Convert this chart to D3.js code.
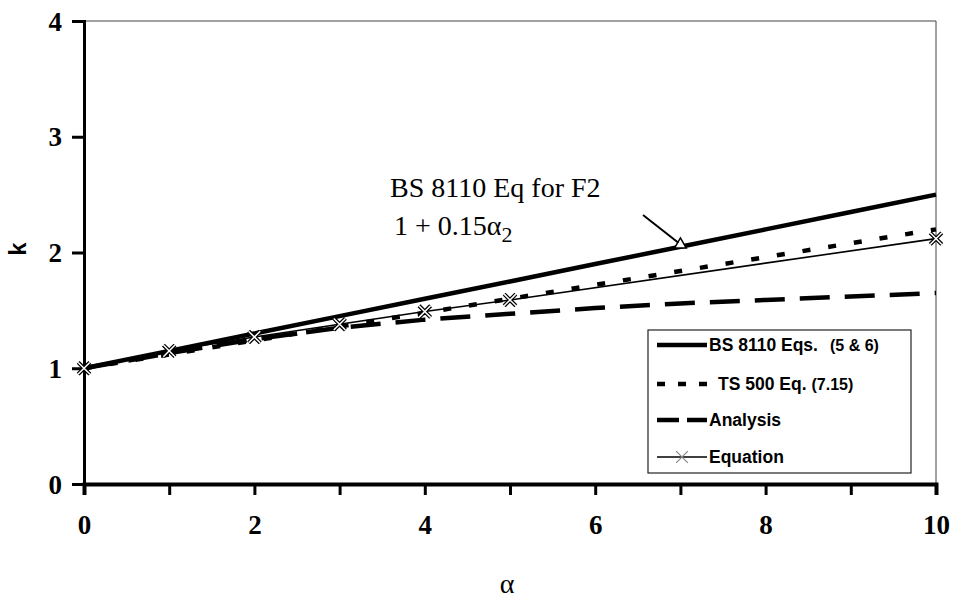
<!DOCTYPE html>
<html>
<head>
<meta charset="utf-8">
<script src="https://cdn.jsdelivr.net/npm/d3@7"></script>
<style>
  body { margin: 0; background: #fff; }
  .tick text { font-family: "Liberation Serif", "Times New Roman", serif; font-weight: bold; font-size: 27px; fill: #000; }
</style>
</head>
<body>
<svg id="chart" width="958" height="603"></svg>
<script>
// values
const alpha = [0, 1, 2, 3, 4, 5, 6, 7, 8, 9, 10]
const bs8110 = [1.0, 1.15, 1.3, 1.45, 1.6, 1.75, 1.9, 2.05, 2.2, 2.35, 2.5]
const ts500 = [1.0, 1.12, 1.24, 1.36, 1.48, 1.6, 1.72, 1.84, 1.96, 2.08, 2.2]
const analysis = [1.0, 1.13, 1.25, 1.35, 1.42, 1.47, 1.52, 1.56, 1.59, 1.62, 1.65]
const alphaEq = [0, 1, 2, 3, 4, 5, 10]
const equation = [1.0, 1.15, 1.27, 1.38, 1.49, 1.59, 2.12]
const xTicks = [0, 1, 2, 3, 4, 5, 6, 7, 8, 9, 10]
const xLabels = [0, 2, 4, 6, 8, 10]
const yTicks = [0, 1, 2, 3, 4]
const legendNames = ["BS 8110 Eqs.", "TS 500 Eq.", "Analysis", "Equation"]
const legendNotes = ["(5 & 6)", "(7.15)", "", ""]
const markedAlpha = 7   // point the arrow points at

const svg = d3.select("#chart")
const mLeft = 84, mRight = 936, mTop = 21, mBottom = 484

let x = d3.scaleLinear().domain([0, 10]).range([mLeft, mRight])
let y = d3.scaleLinear().domain([0, 4]).range([mBottom, mTop])

// thin frame on top and right
svg.append("path")
   .attr("d", `M${mLeft},${mTop}H${mRight}V${mBottom}`)
   .attr("fill", "none")
   .attr("stroke", "#444")
   .attr("stroke-width", 1)

// axes
const xAxis = d3.axisBottom(x).tickValues(xTicks).tickSize(11).tickPadding(20)
                .tickFormat(d => xLabels.includes(d) ? d : "")
const yAxis = d3.axisLeft(y).tickValues(yTicks).tickSize(12).tickPadding(10)
                .tickFormat(d3.format("d"))

let gx = svg.append("g").attr("transform", `translate(0,${mBottom})`).call(xAxis)
gx.select(".domain").attr("stroke-width", 4)
gx.selectAll(".tick line").attr("stroke-width", 3)

let gy = svg.append("g").attr("transform", `translate(${mLeft},0)`).call(yAxis)
gy.select(".domain").attr("stroke-width", 3)
gy.selectAll(".tick line").attr("stroke-width", 3)
gy.selectAll(".tick text").attr("dy", "0.34em")

// axis titles
svg.append("text")
   .attr("x", 507).attr("y", 593)
   .attr("text-anchor", "middle")
   .attr("font-family", "Liberation Serif, serif")
   .attr("font-size", 28)
   .text("α")

svg.append("text")
   .attr("transform", "translate(26,249) rotate(-90)")
   .attr("text-anchor", "middle")
   .attr("font-family", "Liberation Sans, Arial, sans-serif")
   .attr("font-weight", "bold")
   .attr("font-size", 24)
   .text("k")

// series
let line = d3.line().x(d => x(d[0])).y(d => y(d[1]))

const bsStyle = { pts: d3.zip(alpha, bs8110), width: 4.5, dash: null, legDash: null }
const tsStyle = { pts: d3.zip(alpha, ts500), width: 4.5, dash: "8,18", legDash: "8,13" }
const anStyle = { pts: d3.zip(alpha, analysis), width: 4.5, dash: "30,15", legDash: "22,8" }
const eqStyle = { pts: d3.zip(alphaEq, equation), width: 1.6, dash: null, legDash: null }

svg.selectAll(".series")
   .data([anStyle, tsStyle, bsStyle, eqStyle])
   .enter()
   .append("path")
   .attr("class", "series")
   .attr("d", d => line(d.pts))
   .attr("fill", "none")
   .attr("stroke", "#000")
   .attr("stroke-width", d => d.width)
   .attr("stroke-dasharray", d => d.dash)

// star markers of the Equation series
let star = d3.symbol().type(d3.symbolX).size(90)
let marks = svg.append("g")
marks.selectAll(".mk-back")
   .data(eqStyle.pts)
   .enter()
   .append("path")
   .attr("transform", d => `translate(${x(d[0])},${y(d[1])})`)
   .attr("d", star)
   .attr("fill", "none").attr("stroke", "#000").attr("stroke-width", 4)
marks.selectAll(".mk-front")
   .data(eqStyle.pts)
   .enter()
   .append("path")
   .attr("transform", d => `translate(${x(d[0])},${y(d[1])})`)
   .attr("d", star)
   .attr("fill", "none").attr("stroke", "#fff").attr("stroke-width", 1.5)

// annotation with arrow to the BS 8110 line
let px = x(markedAlpha), py = y(bs8110[alpha.indexOf(markedAlpha)])
svg.append("path")
   .attr("transform", `translate(${px},${py - 2})`)
   .attr("d", d3.symbol().type(d3.symbolTriangle).size(60))
   .attr("fill", "#fff").attr("stroke", "#000").attr("stroke-width", 1.5)
svg.append("line")
   .attr("x1", 643).attr("y1", 215)
   .attr("x2", px - 2).attr("y2", py - 4)
   .attr("stroke", "#000").attr("stroke-width", 2)

let note = svg.append("g")
   .attr("font-family", "Liberation Serif, Times New Roman, serif")
   .attr("font-size", 28)
note.append("text").attr("x", 390).attr("y", 197).text("BS 8110 Eq for F2")
let note2 = note.append("text").attr("x", 394).attr("y", 235)
note2.append("tspan").text("1 + 0.15α")
note2.append("tspan").attr("font-size", 22).attr("dy", 7).text("2")

// legend
const lx = 648, ly = 330, lw = 263, lh = 143
const rowY = [345, 384, 420, 457]
const legendStyles = [bsStyle, tsStyle, anStyle, eqStyle]
let legend = svg.append("g")
legend.append("rect")
   .attr("x", lx).attr("y", ly).attr("width", lw).attr("height", lh)
   .attr("fill", "#fff").attr("stroke", "#222").attr("stroke-width", 1.2)

legend.selectAll(".lg-line")
   .data(legendStyles)
   .enter()
   .append("line")
   .attr("x1", lx + 9).attr("x2", lx + 59)
   .attr("y1", (d, i) => rowY[i]).attr("y2", (d, i) => rowY[i])
   .attr("stroke", "#000")
   .attr("stroke-width", d => d.width)
   .attr("stroke-dasharray", d => d.legDash)

legend.append("path")
   .attr("transform", `translate(${lx + 34},${rowY[3]})`)
   .attr("d", star)
   .attr("fill", "none").attr("stroke", "#888").attr("stroke-width", 1.2)

let labels = legend.selectAll(".lg-text")
   .data(legendNames)
   .enter()
   .append("text")
   .attr("x", (d, i) => i === 1 ? 718 : 709)
   .attr("y", (d, i) => rowY[i] + 6)
   .attr("font-family", "Liberation Sans, Arial, sans-serif")
   .attr("font-weight", "bold")
   .attr("font-size", 17.5)
labels.append("tspan").text(d => d)
labels.append("tspan")
   .attr("font-size", 16)
   .attr("dx", (d, i) => i === 0 ? 12 : 5)
   .text((d, i) => legendNotes[i])
</script>
</body>
</html>
